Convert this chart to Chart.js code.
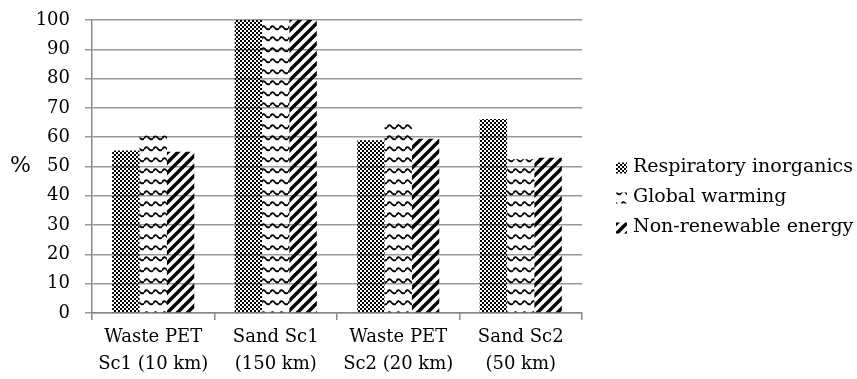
<!DOCTYPE html>
<html>
<head>
<meta charset="utf-8">
<script src="https://cdn.jsdelivr.net/npm/chart.js@4.4.0/dist/chart.umd.min.js"></script>
<style>
html,body{margin:0;padding:0;background:#fff;}
#wrap{position:relative;width:857px;height:379px;}
</style>
</head>
<body>
<div id="wrap"><canvas id="c" width="857" height="379"></canvas></div>
<script>
const categories = [["Waste PET","Sc1 (10 km)"],["Sand Sc1","(150 km)"],["Waste PET","Sc2 (20 km)"],["Sand Sc2","(50 km)"]];
const seriesNames = ["Respiratory inorganics","Global warming","Non-renewable energy"];
const respiratory = [55.5, 100, 59, 66.2];
const globalWarming = [60.6, 100, 65.5, 52.5];
const nonRenewable = [55, 100, 59.5, 53];
const yTicks = [0,10,20,30,40,50,60,70,80,90,100];

function makeTile(w,h,draw){
  const cv=document.createElement('canvas');cv.width=w;cv.height=h;
  const g=cv.getContext('2d');draw(g,w,h);
  return document.getElementById('c').getContext('2d').createPattern(cv,'repeat');
}
const checker = makeTile(4,4,(g)=>{
  g.fillStyle='#000';g.fillRect(0,0,2,2);g.fillRect(2,2,2,2);
});
const wave = makeTile(9,11,(g)=>{
  g.strokeStyle='#000';g.lineWidth=1.8;
  g.beginPath();
  g.moveTo(0,6.5);
  g.quadraticCurveTo(2.25,2.5,4.5,5.5);
  g.quadraticCurveTo(6.75,8.5,9,6.5);
  g.stroke();
});
const diag = makeTile(10,10,(g)=>{
  g.strokeStyle='#000';g.lineWidth=3.4;
  g.beginPath();
  g.moveTo(-5,5);g.lineTo(5,-5);
  g.moveTo(0,10);g.lineTo(10,0);
  g.moveTo(5,15);g.lineTo(15,5);
  g.stroke();
});
const fills=[checker,wave,diag];

const extras = {
  id:'extras',
  afterDraw(chart){
    const y=chart.scales.y; const ctx=chart.ctx;
    ctx.save();ctx.fillStyle='#000';ctx.font='22px "DejaVu Serif"';
    ctx.textAlign='left';ctx.textBaseline='middle';
    ctx.fillText('%',10,y.getPixelForValue(50));
    // legend
    const x0=chart.chartArea.right+34;
    const y0=y.getPixelForValue(50)+1;
    const gap=30;
    ctx.font='19px "DejaVu Serif"';
    chart.data.datasets.forEach((ds,i)=>{
      const yy=y0+i*gap;
      ctx.fillStyle=ds.backgroundColor;
      ctx.fillRect(x0,yy-5,11,11);
      ctx.fillStyle='#000';
      ctx.fillText(ds.label,x0+17,yy);
    });
    ctx.restore();
  }
};

const font = {family:'"DejaVu Serif"', size:18, lineHeight:1.5};
new Chart(document.getElementById('c'),{
  type:'bar',
  data:{
    labels:categories,
    datasets:seriesNames.map((n,i)=>({label:n,data:[respiratory,globalWarming,nonRenewable][i],backgroundColor:fills[i],borderWidth:0}))
  },
  options:{
    responsive:false,animation:false,
    layout:{padding:{left:36,top:20,right:275,bottom:0}},
    categoryPercentage:0.67,barPercentage:1,
    plugins:{
      tooltip:{enabled:false},
      legend:{display:false}
    },
    scales:{
      x:{
        afterFit(s){s.paddingLeft=0;s.paddingRight=0;s.height=66;},
        grid:{display:true,drawOnChartArea:false,color:'#888',tickLength:7,offset:true,lineWidth:1.5},
        border:{color:'#888',width:1.5},
        ticks:{color:'#000',font:font,padding:4,maxRotation:0,autoSkip:false}
      },
      y:{
        min:0,max:100,
        afterFit(s){s.paddingTop=0;s.paddingBottom=0;s.width=56;},
        afterBuildTicks(s){s.ticks=yTicks.map(v=>({value:v}));},
        grid:{color:'#999',lineWidth:1.5,tickLength:7},
        border:{color:'#888',width:1.5},
        ticks:{color:'#000',font:{family:'"DejaVu Serif"',size:18},padding:15}
      }
    }
  },
  plugins:[extras]
});
</script>
</body>
</html>
